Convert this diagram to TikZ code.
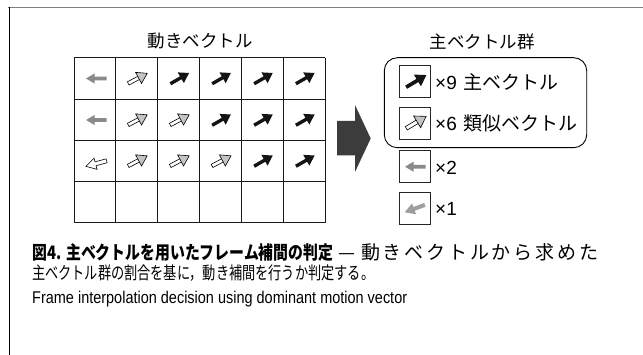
\documentclass[tikz,border=0pt]{standalone}
\usepackage{fontspec}
\usepackage{graphicx}
\newfontfamily\jp{Noto Sans CJK JP}
\newfontfamily\lat{Liberation Sans}
\definecolor{bigarrow}{HTML}{3C3C3C}
\definecolor{lgray}{HTML}{8A8A8A}
\definecolor{hgray}{HTML}{C4C4C4}
\newcommand\blkarrow[4][1]{%
  \fill[black!92, shift={(#2,#3)}, rotate=#4, scale=#1]
    (-10.5,-1.7) -- (1.5,-1.7) -- (1.5,-6.2) -- (11,0) -- (1.5,6.2) -- (1.5,1.7) -- (-10.5,1.7) -- cycle;}
\newcommand\simarrow[4][1]{%
  \begin{scope}[shift={(#2,#3)}, rotate=#4, scale=#1]
    \filldraw[fill=white, draw=black, line width=0.6pt] (-10.5,-1.8) -- (2,-1.8) -- (2,1.8) -- (-10.5,1.8) -- cycle;
    \filldraw[fill=hgray, draw=black, line width=0.6pt] (1.2,-6.3) -- (11,0) -- (1.2,6.3) -- cycle;
  \end{scope}}
\newcommand\leftarrowgray[3]{%
  \fill[#3, shift={(#1,#2)}, rotate=180]
    (-10,-1.9) -- (2,-1.9) -- (2,-5) -- (10.5,0) -- (2,5) -- (2,1.9) -- (-10,1.9) -- cycle;}
\newcommand\ldarrow[4]{%
  \path[#4, shift={(#1,#2)}, rotate=#3]
    (-10.5,-2) -- (1,-2) -- (1,-5.8) -- (11,0) -- (1,5.8) -- (1,2) -- (-10.5,2) -- cycle;}
\newcommand\fitw[2]{\resizebox{#1}{\height}{#2}}
\begin{document}
\begin{tikzpicture}[x=1pt,y=-1pt,
  gridline/.style={line width=0.9pt, draw=black!90},
  smallbox/.style={draw=black!85, line width=0.9pt, minimum width=31pt, minimum height=32pt, inner sep=0pt},
  titletext/.style={font=\jp\fontsize{17.5}{20}\selectfont, inner sep=0pt},
  counttext/.style={anchor=west, inner sep=0pt, font=\fontsize{19}{22}\selectfont},
  captext/.style={anchor=base west, inner sep=0pt}]
\useasboundingbox (0,0) rectangle (643,355);
\fill[white] (0,0) rectangle (643,355);
% frame
\draw[gray, line width=1.2pt] (8,7.5) -- (643,7.5);
\draw[black, line width=0.8pt] (9,7) -- (9,355);
% titles
\node[titletext] (t1) at (200,41) {動きベクトル};
\node[titletext] (t2) at (482,42) {主ベクトル群};
% grid
\foreach \xx in {74,115.8,157.7,199.5,241.3,283.2,325} \draw[gridline] (\xx,57.7) -- (\xx,222.7);
\foreach \yy in {57.7,99,140.3,181.5,222.7} \draw[gridline] (74,\yy) -- (325,\yy);
% row 1
\leftarrowgray{96.5}{78.5}{lgray}
\simarrow{137.5}{78.5}{28}
\blkarrow{179.5}{78.5}{30}
\blkarrow{221.3}{78.5}{30}
\blkarrow{263.2}{78.5}{30}
\blkarrow{305}{78.5}{30}
% row 2
\leftarrowgray{96.5}{120}{lgray}
\simarrow{137.5}{120}{28}
\simarrow{179.5}{120}{28}
\blkarrow{221.3}{120}{30}
\blkarrow{263.2}{120}{30}
\blkarrow{305}{120}{30}
% row 3
\ldarrow{96.5}{163.5}{195}{fill=white, draw=black, line width=0.6pt}
\simarrow{137.5}{161}{28}
\simarrow{179.5}{161}{28}
\simarrow{221.3}{161}{28}
\blkarrow{263.2}{161}{30}
\blkarrow{305}{161}{30}
% big arrow
\fill[bigarrow] (337,121) -- (355,121) -- (355,105) -- (370.7,138.5) -- (355,172) -- (355,155.5) -- (337,155.5) -- cycle;
% group box
\draw[line width=0.9pt, rounded corners=13pt] (384.3,57.7) rectangle (586.7,147.7);
% small boxes
\node[smallbox] (b1) at (415,81.3) {};
\node[smallbox] (b2) at (415,123.3) {};
\node[smallbox] (b3) at (415,166.7) {};
\node[smallbox] (b4) at (415,208.2) {};
\blkarrow[1.1]{416}{81.3}{31}
\simarrow[1.08]{416}{122.5}{31}
\leftarrowgray{415.5}{166.7}{lgray}
\ldarrow{415}{208.5}{200}{fill=black!38}
% counts
\node[counttext] (c1) at (435,81.5) {\lat ×9\hspace{7pt}\jp 主ベクトル};
\node[counttext] (c2) at (435,123.5) {\lat ×6\hspace{7pt}\jp 類似ベクトル};
\node[counttext] (c3) at (435,167.5) {\lat ×2};
\node[counttext] (c4) at (435,209) {\lat ×1};
% caption
\node[captext] (cap1a) at (32,260) {\fitw{301pt}{\jp\bfseries\fontsize{18.5}{20}\selectfont 図4.\hspace{6pt}主ベクトルを用いたフレーム補間の判定}};
\node[captext] (cap1b) at (338,260) {\jp\fontsize{19}{20}\selectfont\makebox[260pt][s]{—\hspace{3pt}\hfil 動\hfil き\hfil ベ\hfil ク\hfil ト\hfil ル\hfil か\hfil ら\hfil 求\hfil め\hfil た}};
\node[captext] (cap2) at (32,280) {\fitw{342pt}{\jp\fontsize{17.5}{19}\selectfont 主ベクトル群の割合を基に，動き補間を行うか判定する。}};
\node[captext] (cap3) at (32,304) {\fitw{375pt}{\lat\fontsize{17}{18}\selectfont Frame interpolation decision using dominant motion vector}};
\end{tikzpicture}
\end{document}
